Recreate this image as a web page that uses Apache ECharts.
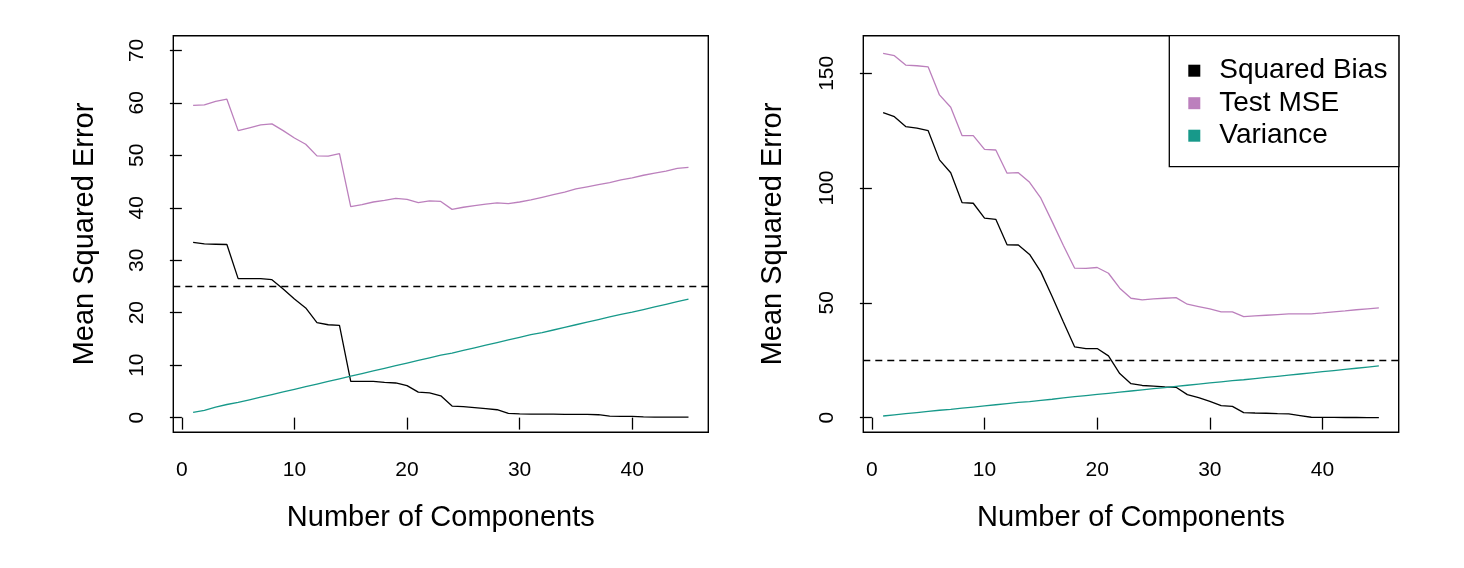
<!DOCTYPE html>
<html><head><meta charset="utf-8">
<script src="https://cdn.jsdelivr.net/npm/echarts@6/dist/echarts.min.js"></script>
<style>html,body{margin:0;padding:0;background:#fff}#c{width:1464px;height:568px}</style>
</head><body><div id="c"></div>
<script>
const components = [1,2,3,4,5,6,7,8,9,10,11,12,13,14,15,16,17,18,19,20,21,22,23,24,25,26,27,28,29,30,31,32,33,34,35,36,37,38,39,40,41,42,43,44,45];
const xTicks = [0,10,20,30,40];
const leftYTicks = [0,10,20,30,40,50,60,70];
const rightYTicks = [0,50,100,150];
const seriesNames = ['Squared Bias','Test MSE','Variance'];
const irreducibleError = 25;

const leftBias = [33.4,33.1,33.05,33.0,26.5,26.5,26.5,26.3,24.5,22.6,20.9,18.1,17.7,17.6,6.9,6.9,6.9,6.7,6.6,6.1,4.85,4.7,4.15,2.2,2.1,1.9,1.7,1.5,0.8,0.7,0.65,0.65,0.65,0.6,0.6,0.6,0.55,0.3,0.25,0.25,0.15,0.1,0.1,0.1,0.1];
const leftMSE = [59.5,59.6,60.3,60.7,54.7,55.25,55.8,56.0,54.7,53.3,52.1,49.9,49.85,50.3,40.2,40.6,41.1,41.4,41.8,41.6,41.0,41.3,41.2,39.7,40.1,40.4,40.7,40.95,40.8,41.1,41.5,42.0,42.5,43.0,43.6,44.0,44.4,44.8,45.3,45.7,46.2,46.6,47.0,47.5,47.7];
const leftVar = [1.0,1.4,2.0,2.5,2.9,3.4,3.9,4.4,4.9,5.4,5.9,6.4,6.9,7.4,7.9,8.4,8.9,9.4,9.9,10.4,10.9,11.4,11.9,12.3,12.8,13.3,13.8,14.3,14.8,15.3,15.8,16.2,16.7,17.2,17.7,18.2,18.7,19.2,19.7,20.1,20.6,21.1,21.6,22.1,22.6];

const rightBias = [132.9,131.1,126.8,126.1,125.0,112.3,106.7,93.7,93.4,86.9,86.4,75.3,75.2,71.1,63.5,52.8,41.7,30.8,30.1,30.1,26.9,19.2,14.8,14.0,13.7,13.4,13.2,10.0,8.7,7.1,5.2,4.9,2.2,2.0,1.9,1.7,1.6,0.9,0.15,0.1,0.1,0.05,0.05,0.0,0.0];
const rightMSE = [158.7,157.7,153.6,153.3,152.8,140.6,135.2,122.9,122.9,116.9,116.6,106.5,106.7,102.5,95.6,85.4,75.0,65.1,65.0,65.4,62.9,56.4,52.0,51.3,51.7,52.0,52.3,49.4,48.4,47.4,46.1,46.1,44.0,44.3,44.6,44.9,45.2,45.2,45.2,45.6,46.1,46.5,47.0,47.4,47.8];
const rightVar = [0.7,1.2,1.7,2.2,2.7,3.2,3.6,4.1,4.6,5.1,5.6,6.1,6.6,7.0,7.5,8.0,8.6,9.1,9.6,10.1,10.6,11.1,11.6,12.1,12.6,13.1,13.6,14.1,14.6,15.1,15.6,16.1,16.5,17.0,17.5,18.0,18.5,19.0,19.5,20.0,20.5,21.0,21.5,22.0,22.5];

const F = '"Liberation Sans", Arial, Helvetica, sans-serif';
const colors = {'Squared Bias':'#000000','Test MSE':'#BC80BD','Variance':'#17998A'};

function xAxis(gi){
  return {type:'value', gridIndex:gi, min:-0.76, max:46.76,
    name:'Number of Components', nameLocation:'middle', nameGap:71, nameMoveOverlap:false,
    nameTextStyle:{fontSize:29, fontFamily:F, color:'#000'},
    axisLine:{show:false}, splitLine:{show:false},
    axisTick:{show:true, inside:false, length:12, customValues:xTicks, lineStyle:{color:'#000', width:1.3}},
    axisLabel:{show:true, margin:27, fontSize:21, fontFamily:F, color:'#000', customValues:xTicks}
  };
}
function yAxis(gi, min, max, ticks, gap){
  return {type:'value', gridIndex:gi, min:min, max:max,
    name:'Mean Squared Error', nameLocation:'middle', nameGap:gap, nameRotate:90, nameMoveOverlap:false,
    nameTextStyle:{fontSize:29, fontFamily:F, color:'#000'},
    axisLine:{show:false}, splitLine:{show:false},
    axisTick:{show:true, inside:false, length:12, customValues:ticks, lineStyle:{color:'#000', width:1.3}},
    axisLabel:{show:true, rotate:90, margin:26, fontSize:21, fontFamily:F, color:'#000', customValues:ticks}
  };
}
function pairs(arr){ return components.map((c,i)=>[c, arr[i]]); }
function line(name, arr, gi, withRef){
  const s = {name:name, type:'line', xAxisIndex:gi, yAxisIndex:gi, data:pairs(arr),
    showSymbol:false, symbol:'none', color:colors[name], itemStyle:{color:colors[name]},
    lineStyle:{color:colors[name], width:1.3}, silent:true};
  if (withRef) {
    s.markLine = {silent:true, symbol:['none','none'], label:{show:false},
      lineStyle:{color:'#000', type:[7,5], width:1.3},
      data:[{yAxis:irreducibleError}]};
  }
  return s;
}

const chart = echarts.init(document.getElementById('c'), null, {renderer:'canvas'});
chart.setOption({
  animation:false,
  backgroundColor:'#fff',
  grid:[
    {left:173.3, top:35.7, width:535, height:396.6, show:true, borderColor:'#000', borderWidth:1.4, backgroundColor:'transparent'},
    {left:863.3, top:35.7, width:535.4, height:396.6, show:true, borderColor:'#000', borderWidth:1.4, backgroundColor:'transparent'}
  ],
  xAxis:[xAxis(0), xAxis(1)],
  yAxis:[yAxis(0,-2.8,72.8,leftYTicks,74), yAxis(1,-6.4,166.4,rightYTicks,76)],
  legend:{
    data:seriesNames, orient:'vertical', left:1169.3, top:35.7,
    padding:[21,11.5,17,19], itemWidth:12, itemHeight:12, itemGap:4.5, icon:'rect',
    borderColor:'#000', borderWidth:1.3, backgroundColor:'#fff', selectedMode:false,
    formatter:'{t|{name}}',
    textStyle:{color:'#000', fontSize:28, fontFamily:F,
      rich:{t:{fontSize:28, fontFamily:F, color:'#000', padding:[0,0,0,14]}}}
  },
  series:[
    line('Squared Bias', leftBias, 0, true),
    line('Test MSE', leftMSE, 0, false),
    line('Variance', leftVar, 0, false),
    line('Squared Bias', rightBias, 1, true),
    line('Test MSE', rightMSE, 1, false),
    line('Variance', rightVar, 1, false)
  ]
});
</script>
</body></html>
